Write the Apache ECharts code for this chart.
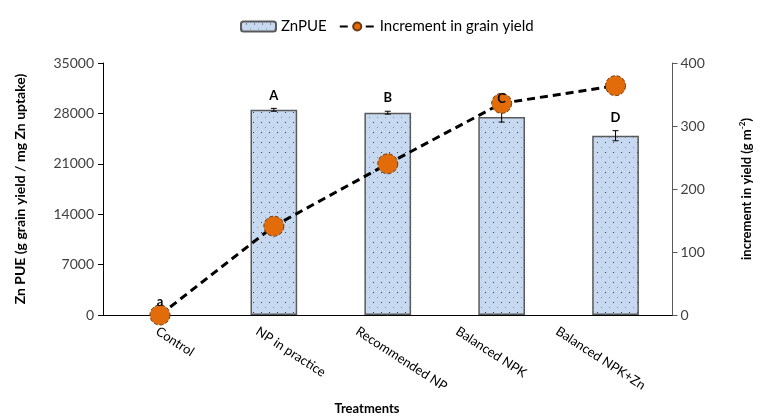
<!DOCTYPE html>
<html>
<head>
<meta charset="utf-8">
<script src="https://cdn.jsdelivr.net/npm/echarts@6/dist/echarts.min.js"></script>
<style>
  html, body { margin: 0; padding: 0; background: #fff; }
  #chart { width: 761px; height: 416px; }
</style>
</head>
<body>
<div id="chart"></div>
<script>
// Treatments on the category axis
const treatments = ['Control', 'NP in practice', 'Recommended NP', 'Balanced NPK', 'Balanced NPK+Zn'];
// Zn partial use efficiency (g grain yield / mg Zn uptake) and its error
const znPUE = [null, 28500, 28100, 27500, 24900];
const znPUEErr = [0, 200, 200, 700, 700];
// Increment in grain yield (g m-2)
const yieldIncrement = [0, 141, 240, 336, 364];
// Significance letters
const letters = ['a', 'A', 'B', 'C', 'D'];
// Axis ticks
const leftTicks = { min: 0, max: 35000, interval: 7000 };
const rightTicks = { min: 0, max: 400, interval: 100 };

const FONT = 'Lato, "Open Sans", sans-serif';

// Light blue fill with a fine dot pattern for the bars
function dotPattern() {
  const c = document.createElement('canvas');
  c.width = 8; c.height = 10;
  const g = c.getContext('2d');
  g.fillStyle = '#c6d9f0';
  g.fillRect(0, 0, 8, 10);
  g.fillStyle = '#3a3a3a';
  g.fillRect(5, 2, 1, 1);
  g.fillStyle = '#8693a6';
  g.fillRect(1, 7, 1, 1);
  return c;
}
const barFill = { image: dotPattern(), repeat: 'repeat' };

const chart = echarts.init(document.getElementById('chart'), null, { renderer: 'canvas' });

const option = {
  animation: false,
  backgroundColor: '#ffffff',
  title: {
    text: 'Treatments',
    left: 362,
    top: 397,
    textAlign: 'center',
    textStyle: { fontFamily: FONT, fontSize: 13, fontWeight: 'bold', color: '#000' }
  },
  legend: {
    top: 14,
    left: 235,
    itemWidth: 35,
    itemHeight: 10,
    itemGap: 12,
    textStyle: { fontFamily: FONT, fontSize: 15, color: '#000' },
    data: ['ZnPUE', 'Increment in grain yield']
  },
  grid: [
    { left: 103, right: 82, top: 63, bottom: 101 },
    { left: 107, width: 500, top: 63, bottom: 101 }
  ],
  xAxis: [
    {
      type: 'category',
      gridIndex: 0,
      data: treatments,
      axisLine: { lineStyle: { color: '#000', width: 1 } },
      axisTick: { show: false },
      axisLabel: { show: false }
    },
    {
      // label row for the treatments, laid out at Excel-like spacing
      type: 'category',
      gridIndex: 1,
      data: treatments,
      axisLine: { show: false },
      axisTick: { show: false },
      axisLabel: {
        rotate: -33,
        margin: 15,
        fontFamily: FONT,
        fontSize: 13,
        color: '#000'
      }
    }
  ],
  yAxis: [
    {
      type: 'value',
      gridIndex: 0,
      min: leftTicks.min, max: leftTicks.max, interval: leftTicks.interval,
      name: 'Zn PUE (g grain yield / mg Zn uptake)',
      nameLocation: 'middle',
      nameGap: 76,
      nameRotate: 90,
      nameTextStyle: { fontFamily: FONT, fontSize: 14, fontWeight: 'bold', color: '#000' },
      axisLine: { show: true, lineStyle: { color: '#000' } },
      axisTick: { show: true, length: 5, lineStyle: { color: '#000' } },
      axisLabel: {
        fontFamily: FONT, fontSize: 14, color: '#404040', margin: 9,
        formatter: v => String(v)
      },
      splitLine: { show: false }
    },
    {
      type: 'value',
      gridIndex: 0,
      position: 'right',
      min: rightTicks.min, max: rightTicks.max, interval: rightTicks.interval,
      name: '{n|increment in yield (g m}{s|-2}{n|)}',
      nameLocation: 'middle',
      nameGap: 66,
      nameRotate: 90,
      nameTextStyle: {
        rich: {
          n: { fontFamily: FONT, fontSize: 13, fontWeight: 'bold', color: '#000' },
          s: { fontFamily: FONT, fontSize: 8, fontWeight: 'bold', color: '#000', verticalAlign: 'top', padding: [0, 0, 8, 0] }
        }
      },
      axisLine: { show: true, lineStyle: { color: '#595959' } },
      axisTick: { show: true, length: 5, lineStyle: { color: '#595959' } },
      axisLabel: { fontFamily: FONT, fontSize: 14, color: '#404040', margin: 8 },
      splitLine: { show: false }
    },
    { type: 'value', gridIndex: 1, show: false }
  ],
  series: [
    {
      name: 'ZnPUE',
      type: 'bar',
      xAxisIndex: 0, yAxisIndex: 0,
      data: znPUE,
      barWidth: '41%',
      itemStyle: { color: barFill, borderColor: '#5a5a5a', borderWidth: 1.5 },
      z: 2
    },
    {
      name: 'ZnPUE error',
      type: 'custom',
      xAxisIndex: 0, yAxisIndex: 0,
      data: znPUE.map((v, i) => [i, v, znPUEErr[i]]),
      renderItem: function (params, api) {
        const v = api.value(1);
        const e = api.value(2);
        if (v == null || isNaN(v) || !e) return null;
        const hi = api.coord([api.value(0), v + e]);
        const lo = api.coord([api.value(0), v - e]);
        const w = 3;
        const st = { stroke: '#000', lineWidth: 1 };
        return {
          type: 'group',
          children: [
            { type: 'line', shape: { x1: hi[0], y1: hi[1], x2: lo[0], y2: lo[1] }, style: st },
            { type: 'line', shape: { x1: hi[0] - w, y1: hi[1], x2: hi[0] + w, y2: hi[1] }, style: st },
            { type: 'line', shape: { x1: lo[0] - w, y1: lo[1], x2: lo[0] + w, y2: lo[1] }, style: st }
          ]
        };
      },
      z: 3
    },
    {
      name: 'Increment in grain yield',
      type: 'line',
      xAxisIndex: 0, yAxisIndex: 1,
      data: yieldIncrement,
      symbol: 'circle',
      symbolSize: 20,
      lineStyle: { color: '#000', width: 3, type: [8, 5] },
      itemStyle: { color: '#e36c0a', borderColor: '#6b3a10', borderWidth: 1, borderType: 'dashed' },
      z: 4
    },
    {
      name: 'letters',
      type: 'custom',
      xAxisIndex: 0, yAxisIndex: 0,
      data: znPUE.map((v, i) => [i, (v || 0) + znPUEErr[i], letters[i]]),
      renderItem: function (params, api) {
        const p = api.coord([api.value(0), api.value(1)]);
        return {
          type: 'text',
          x: p[0], y: p[1] - 13,
          style: {
            text: letters[params.dataIndex],
            fontFamily: FONT, fontSize: 13, fontWeight: 'bold',
            fill: '#000', align: 'center', verticalAlign: 'middle'
          }
        };
      },
      z: 5
    }
  ]
};

chart.setOption(option);
</script>
</body>
</html>
